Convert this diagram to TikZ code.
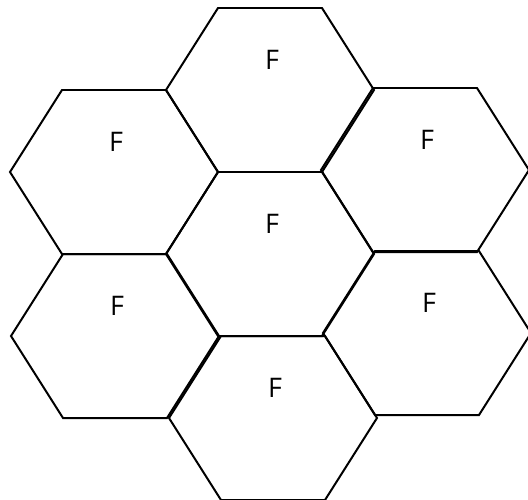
\documentclass[tikz,border=0pt]{standalone}
\usepackage{fontspec}
\setsansfont{Open Sans}
\tikzstyle{cell} = [draw=black, line width=1.7pt, line join=miter]
\tikzstyle{letter} = [font=\sffamily\fontsize{23}{27}\selectfont, text=black, inner sep=0pt]
\begin{document}
\begin{tikzpicture}[x=0.03cm, y=-0.03cm]
\useasboundingbox (0,0) rectangle (528,499);
\clip (0,0) rectangle (528,499);
% seven cells, named by position
\foreach \name/\cx/\cy in {top/270/90, upleft/114/172, upright/425/170, middle/270/254, lowleft/115/336, lowright/427/333, bottom/273/418} {
  \coordinate (\name) at (\cx,\cy);
  \draw [cell] (\name) ++(-104,0) -- ++(52,-82) -- ++(104,0) -- ++(52,82) -- ++(-52,82) -- ++(-104,0) -- cycle;
  \node (\name F) [letter] at ([shift={(2,-30)}]\name) {F};
}
\end{tikzpicture}
\end{document}
